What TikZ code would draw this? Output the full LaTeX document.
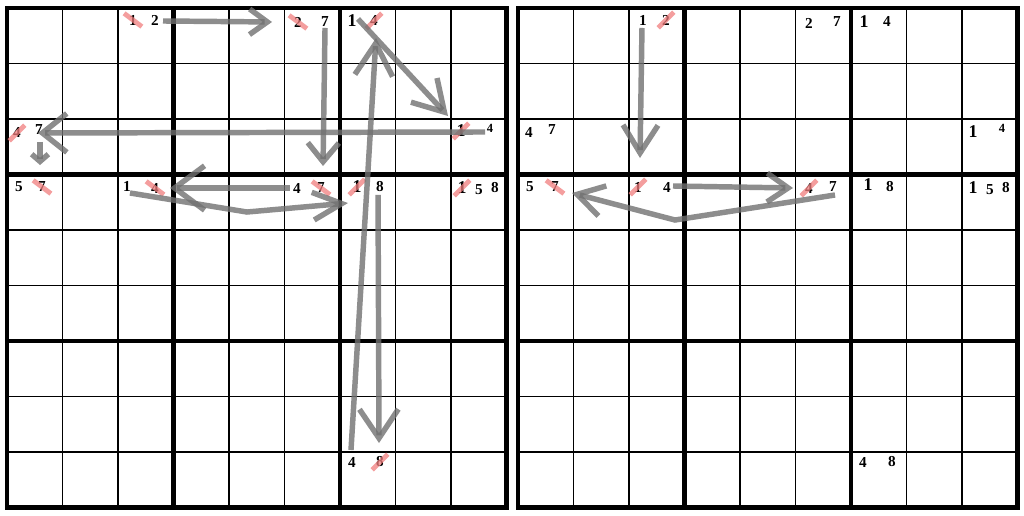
\documentclass[tikz,border=0pt]{standalone}
\usepackage{fontspec}
\setmainfont{Liberation Serif}
\usetikzlibrary{arrows.meta}
\definecolor{pencil}{RGB}{112,112,112}
\definecolor{rubout}{RGB}{240,125,125}

% crossed candidates
\newcommand{\barA}[1]{\draw[strike] ([shift={(-0.16,-0.12)}]#1.center) -- ([shift={(0.16,0.12)}]#1.center);}
\newcommand{\barB}[1]{\draw[strike] ([shift={(-0.14,0.14)}]#1.center) -- ([shift={(0.14,-0.14)}]#1.center);}

\begin{document}
\begin{tikzpicture}[x=1cm,y=-1cm,
  cand/.style={inner sep=0pt,font=\fontsize{7.8}{8}\selectfont\bfseries},
  candbig/.style={inner sep=0pt,font=\fontsize{9.2}{10}\selectfont\bfseries},
  candsmall/.style={inner sep=0pt,font=\fontsize{6.4}{7}\selectfont\bfseries},
  strike/.style={rubout,line width=2.5pt,opacity=0.75},
  move/.style n args={2}{pencil,line width=2.8pt,opacity=0.8,-{Straight Barb[length=#1,width=#2]}}]
\useasboundingbox (-0.126,-0.144) rectangle (18.324,9.135);

% the two grids
\foreach \ox in {0,9.207}{
  \foreach \i in {1,2,4,5,7,8}{
    \draw [line width=0.7pt] (\ox+\i,0) -- (\ox+\i,9);
    \draw [line width=0.7pt] (\ox,\i) -- (\ox+9,\i);
  }
  \foreach \i in {0,3,6,9}{
    \draw [line width=2.3pt,line cap=rect] (\ox+\i,0) -- (\ox+\i,9);
    \draw [line width=2.3pt,line cap=rect] (\ox,\i) -- (\ox+9,\i);
  }
}

% left grid
\node[cand] (L13n1) at (2.270,0.216) {1};
\node[cand] (L13n2) at (2.667,0.216) {2};
\node[cand] (L16n2) at (5.243,0.252) {2};
\node[cand] (L16n7) at (5.730,0.252) {7};
\node[candbig] (L17n1) at (6.216,0.234) {1};
\node[cand] (L17n4) at (6.613,0.234) {4};
\node[cand] (L31n4) at (0.180,2.252) {4};
\node[cand] (L31n7) at (0.577,2.198) {7};
\node[candbig] (L39n1) at (8.180,2.216) {1};
\node[candsmall] (L39n4) at (8.703,2.162) {4};
\node[cand] (L41n5) at (0.216,3.225) {5};
\node[cand] (L41n7) at (0.631,3.225) {7};
\node[cand] (L43n1) at (2.162,3.207) {1};
\node[cand] (L43n4) at (2.667,3.243) {4};
\node[cand] (L46n4) at (5.225,3.261) {4};
\node[cand] (L46n7) at (5.658,3.243) {7};
\node[candbig] (L47n1) at (6.306,3.225) {1};
\node[cand] (L47n8) at (6.721,3.225) {8};
\node[candbig] (L49n1) at (8.198,3.243) {1};
\node[cand] (L49n5) at (8.505,3.279) {5};
\node[cand] (L49n8) at (8.793,3.243) {8};
\node[cand] (L97n4) at (6.216,8.180) {4};
\node[cand] (L97n8) at (6.721,8.180) {8};

% right grid
\node[cand] (R13n1) at (11.459,0.216) {1};
\node[cand] (R13n2) at (11.874,0.216) {2};
\node[cand] (R16n2) at (14.450,0.270) {2};
\node[cand] (R16n7) at (14.955,0.252) {7};
\node[candbig] (R17n1) at (15.441,0.252) {1};
\node[cand] (R17n4) at (15.856,0.252) {4};
\node[cand] (R31n4) at (9.405,2.252) {4};
\node[cand] (R31n7) at (9.820,2.198) {7};
\node[candbig] (R39n1) at (17.405,2.234) {1};
\node[candsmall] (R39n4) at (17.928,2.162) {4};
\node[cand] (R41n5) at (9.423,3.225) {5};
\node[cand] (R41n7) at (9.874,3.225) {7};
\node[cand] (R43n1) at (11.369,3.225) {1};
\node[cand] (R43n4) at (11.892,3.225) {4};
\node[cand] (R45n4) at (14.450,3.243) {4};
\node[cand] (R45n7) at (14.883,3.225) {7};
\node[candbig] (R47n1) at (15.514,3.189) {1};
\node[cand] (R47n8) at (15.910,3.225) {8};
\node[candbig] (R49n1) at (17.405,3.243) {1};
\node[cand] (R49n5) at (17.712,3.279) {5};
\node[cand] (R49n8) at (18.000,3.243) {8};
\node[cand] (R97n4) at (15.423,8.180) {4};
\node[cand] (R97n8) at (15.946,8.180) {8};

\barA{L13n1} \barA{L16n2} \barB{L17n4} \barB{L31n4} \barB{L39n1}
\barA{L41n7} \barA{L43n4} \barA{L46n7} \barB{L47n1} \barB{L49n1}
\barB{L97n8}
\barB{R13n2} \barA{R41n7} \barB{R43n1} \barB{R45n4}

% arrow ends
\coordinate (a1s) at (2.811,0.234);  \coordinate (a1e) at (4.775,0.252);
\coordinate (a2s) at (5.730,0.360);  \coordinate (a2e) at (5.694,2.847);
\coordinate (a3s) at (6.324,0.198);  \coordinate (a3e) at (7.946,1.946);
\coordinate (a4s) at (6.198,7.964);  \coordinate (a4e) at (6.649,0.541);
\coordinate (a5s) at (6.685,3.369);  \coordinate (a5e) at (6.703,7.838);
\coordinate (a6s) at (8.613,2.234);  \coordinate (a6e) at (0.559,2.252);
\coordinate (a7s) at (0.595,2.414);  \coordinate (a7e) at (0.595,2.829);
\coordinate (a8s) at (5.099,3.243);  \coordinate (a8e) at (2.937,3.243);
\coordinate (a9s) at (2.216,3.333);  \coordinate (a9k) at (4.324,3.676);
\coordinate (a9e) at (6.144,3.514);
\coordinate (b1s) at (11.441,0.360); \coordinate (b1e) at (11.405,2.703);
\coordinate (b2s) at (12.000,3.207); \coordinate (b2e) at (14.162,3.243);
\coordinate (b3s) at (14.919,3.369); \coordinate (b3k) at (12.036,3.820);
\coordinate (b3e) at (10.180,3.333);

\draw [move={3.2mm}{4.6mm}] (a1s) -- (a1e);
\draw [move={3.4mm}{5.6mm}] (a2s) -- (a2e);
\draw [move={5.4mm}{6.4mm}] (a3s) -- (a3e);
\draw [move={5.8mm}{6.8mm}] (a4s) -- (a4e);
\draw [move={5.2mm}{7mm}] (a5s) -- (a5e);
\draw [move={4.4mm}{7mm}] (a6s) -- (a6e);
\draw [move={1.3mm}{3mm}] (a7s) -- (a7e);
\draw [move={5.4mm}{8mm}] (a8s) -- (a8e);
\draw [move={5.2mm}{5mm}] (a9s) -- (a9k) -- (a9e);

\draw [move={5mm}{6.3mm}] (b1s) -- (b1e);
\draw [move={3.8mm}{5.2mm}] (b2s) -- (b2e);
\draw [move={4.7mm}{5.6mm}] (b3s) -- (b3k) -- (b3e);

\end{tikzpicture}
\end{document}
